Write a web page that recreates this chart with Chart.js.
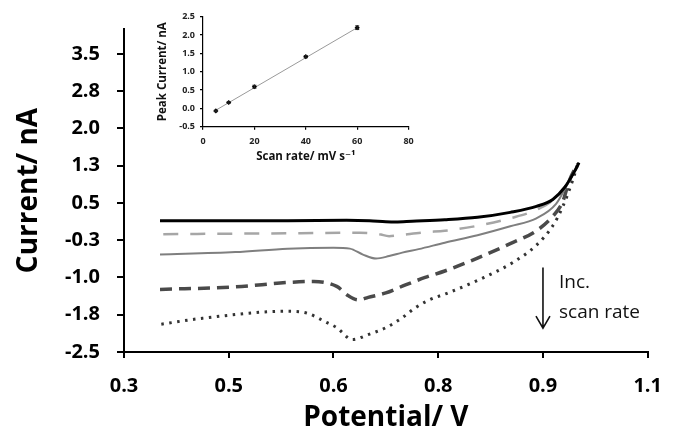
<!DOCTYPE html>
<html>
<head>
<meta charset="utf-8">
<script src="https://cdn.jsdelivr.net/npm/chart.js@4.4.1/dist/chart.umd.min.js"></script>
<style>
  html, body { margin: 0; padding: 0; background: #fff; }
  #wrap { position: relative; width: 678px; height: 433px; }
  #mainChart { position: absolute; left: 0; top: 0; }
  #insetChart { position: absolute; left: 145px; top: 4px; }
</style>
</head>
<body>
<div id="wrap">
  <canvas id="mainChart" width="678" height="433"></canvas>
  <canvas id="insetChart" width="275" height="166"></canvas>
</div>
<script>
// main CV curves, one pair of arrays per scan rate (mV/s)
const pot5  = [0.355, 0.45, 0.55, 0.64, 0.675, 0.70, 0.715, 0.74, 0.79, 0.84, 0.89, 0.93, 0.955, 0.973, 0.988, 0.995];
const cur5  = [0.14, 0.14, 0.14, 0.15, 0.14, 0.12, 0.115, 0.13, 0.16, 0.21, 0.31, 0.43, 0.57, 0.81, 1.13, 1.31];
const pot10 = [0.36, 0.45, 0.57, 0.66, 0.69, 0.705, 0.72, 0.76, 0.79, 0.84, 0.89, 0.93, 0.96, 0.98, 0.995];
const cur10 = [-0.13, -0.12, -0.11, -0.10, -0.13, -0.17, -0.15, -0.09, -0.06, 0.04, 0.19, 0.36, 0.61, 0.94, 1.30];
const pot20 = [0.355, 0.47, 0.55, 0.62, 0.645, 0.665, 0.685, 0.705, 0.725, 0.75, 0.79, 0.84, 0.89, 0.93, 0.96, 0.98, 0.995];
const cur20 = [-0.54, -0.49, -0.42, -0.40, -0.42, -0.54, -0.62, -0.57, -0.50, -0.43, -0.30, -0.15, 0.03, 0.19, 0.48, 0.94, 1.30];
const pot40 = [0.355, 0.47, 0.55, 0.59, 0.625, 0.643, 0.658, 0.673, 0.70, 0.73, 0.76, 0.79, 0.84, 0.89, 0.93, 0.955, 0.97, 0.98, 0.993];
const cur40 = [-1.24, -1.19, -1.10, -1.08, -1.18, -1.37, -1.45, -1.40, -1.31, -1.15, -1.00, -0.87, -0.61, -0.32, -0.06, 0.23, 0.52, 0.94, 1.29];
const pot60 = [0.357, 0.42, 0.55, 0.58, 0.61, 0.625, 0.649, 0.673, 0.70, 0.725, 0.745, 0.765, 0.795, 0.845, 0.895, 0.93, 0.955, 0.97, 0.985, 0.993];
const cur60 = [-1.94, -1.82, -1.68, -1.72, -1.91, -2.01, -2.25, -2.15, -2.01, -1.81, -1.61, -1.46, -1.31, -1.03, -0.69, -0.35, 0.04, 0.42, 0.94, 1.28];

const potentialTicks = [0.3, 0.46, 0.62, 0.78, 0.94, 1.1];
const potentialTickLabels = ['0.3', '0.5', '0.6', '0.8', '0.9', '1.1'];
const currentTicks = [-2.5, -1.75, -1.0, -0.25, 0.5, 1.25, 2.0, 2.75, 3.5];
const currentTickLabels = ['-2.5', '-1.8', '-1.0', '-0.3', '0.5', '1.3', '2.0', '2.8', '3.5'];

// arrow note
const arrowPotential = 0.94, arrowFrom = -0.8, arrowTo = -2.02;
const noteLines = ['Inc.', 'scan rate'];

// inset: peak current vs scan rate
const scanRates = [5, 10, 20, 40, 60];
const peakCurrents = [-0.07, 0.16, 0.59, 1.41, 2.20];
const peakErrors = [0.02, 0.02, 0.04, 0.03, 0.05];
const trendRates = [5, 60];
const trendCurrents = [-0.05, 2.2];
const rateTicks = [0, 20, 40, 60, 80];
const peakTicks = [-0.5, 0, 0.5, 1.0, 1.5, 2.0, 2.5];

const FONT = "'Open Sans', 'DejaVu Sans', sans-serif";
const pts = (xs, ys) => xs.map((x, i) => ({ x, y: ys[i] }));

function line(data, color, width, dash) {
    return { data, borderColor: color, borderWidth: width, borderDash: dash || [], pointRadius: 0,
             showLine: true, fill: false, cubicInterpolationMode: 'monotone', borderCapStyle: 'butt' };
}

const arrowPlugin = {
    id: 'arrowNote',
    afterDraw(chart) {
        const { ctx, scales: { x, y } } = chart;
        const px = x.getPixelForValue(arrowPotential);
        const y1 = y.getPixelForValue(arrowFrom), y2 = y.getPixelForValue(arrowTo);
        ctx.save();
        ctx.strokeStyle = '#111';
        ctx.lineWidth = 1.6;
        ctx.beginPath();
        ctx.moveTo(px, y1); ctx.lineTo(px, y2);
        ctx.moveTo(px - 7, y2 - 12); ctx.lineTo(px, y2); ctx.lineTo(px + 7, y2 - 12);
        ctx.stroke();
        ctx.fillStyle = '#111';
        ctx.font = "19px " + FONT;
        ctx.textBaseline = 'middle';
        ctx.fillText(noteLines[0], px + 16, y1 + 15);
        ctx.fillText(noteLines[1], px + 16, y1 + 45);
        ctx.restore();
    }
};

new Chart(document.getElementById('mainChart'), {
    type: 'scatter',
    data: { datasets: [
        line(pts(pot5, cur5), '#000000', 3),
        line(pts(pot10, cur10), '#a6a6a6', 2.5, [15, 12]),
        line(pts(pot20, cur20), '#7f7f7f', 2),
        line(pts(pot40, cur40), '#4a4a4a', 3.5, [12, 7]),
        line(pts(pot60, cur60), '#333333', 3, [2.5, 5.5]),
    ]},
    options: {
        responsive: false, animation: false,
        layout: { padding: { top: 14, right: 20, left: 0, bottom: 0 } },
        plugins: { legend: { display: false }, tooltip: { enabled: false } },
        scales: {
            x: {
                type: 'linear', min: 0.3, max: 1.1,
                afterBuildTicks: s => { s.ticks = potentialTicks.map(v => ({ value: v })); },
                afterFit: s => { s.height = 81; },
                ticks: { callback: (v, i) => potentialTickLabels[i], autoSkip: false, maxRotation: 0,
                         color: '#000', padding: 16, font: { family: FONT, size: 20, weight: 'bold' } },
                grid: { drawOnChartArea: false, drawTicks: true, tickLength: 6, color: '#000', lineWidth: 2 },
                border: { color: '#000', width: 2 },
                title: { display: true, text: 'Potential/ V', color: '#000', padding: { top: 0, bottom: -2 },
                         font: { family: FONT, size: 28, weight: 'bold' } }
            },
            y: {
                type: 'linear', min: -2.5, max: 4.0,
                afterBuildTicks: s => { s.ticks = currentTicks.map(v => ({ value: v })); },
                afterFit: s => { s.width = 124; },
                ticks: { callback: (v, i) => currentTickLabels[i], autoSkip: false,
                         color: '#000', padding: 17, font: { family: FONT, size: 20, weight: 'bold' } },
                grid: { drawOnChartArea: false, drawTicks: true, tickLength: 7, color: '#000', lineWidth: 2 },
                border: { color: '#000', width: 2 },
                title: { display: true, text: 'Current/ nA', color: '#000', padding: { top: 12, bottom: 0 },
                         font: { family: FONT, size: 28, weight: 'bold' } }
            }
        }
    },
    plugins: [arrowPlugin]
});

const errorBarPlugin = {
    id: 'errorBars',
    afterDatasetsDraw(chart) {
        const { ctx, scales: { x, y } } = chart;
        ctx.save();
        ctx.strokeStyle = '#222';
        ctx.lineWidth = 1;
        scanRates.forEach((r, i) => {
            const px = x.getPixelForValue(r);
            const top = y.getPixelForValue(peakCurrents[i] + peakErrors[i]);
            const bot = y.getPixelForValue(peakCurrents[i] - peakErrors[i]);
            ctx.beginPath();
            ctx.moveTo(px, top); ctx.lineTo(px, bot);
            ctx.moveTo(px - 2, top); ctx.lineTo(px + 2, top);
            ctx.moveTo(px - 2, bot); ctx.lineTo(px + 2, bot);
            ctx.stroke();
        });
        ctx.restore();
    }
};

new Chart(document.getElementById('insetChart'), {
    type: 'scatter',
    data: { datasets: [
        { data: pts(scanRates, peakCurrents), pointStyle: 'rectRot', pointRadius: 2.6,
          backgroundColor: '#000', borderColor: '#000', borderWidth: 0, showLine: false },
        { data: pts(trendRates, trendCurrents), showLine: true, pointRadius: 0,
          borderColor: '#9a9a9a', borderWidth: 1 }
    ]},
    options: {
        responsive: false, animation: false,
        layout: { padding: { top: 12.7, right: 11.4, left: 0, bottom: 0 } },
        plugins: { legend: { display: false }, tooltip: { enabled: false } },
        scales: {
            x: {
                type: 'linear', min: 0, max: 80,
                afterBuildTicks: s => { s.ticks = rateTicks.map(v => ({ value: v })); },
                afterFit: s => { s.height = 43.3; },
                ticks: { autoSkip: false, maxRotation: 0, color: '#222', padding: 6,
                         font: { family: FONT, size: 9, weight: 'bold' } },
                grid: { drawOnChartArea: false, drawTicks: true, tickLength: 3, color: '#000', lineWidth: 1.2 },
                border: { color: '#000', width: 1.2 },
                title: { display: true, text: 'Scan rate/ mV s⁻¹', color: '#111', padding: { top: 0, bottom: 6 },
                         font: { family: FONT, size: 11.5, weight: 'bold' } }
            },
            y: {
                type: 'linear', min: -0.5, max: 2.5,
                afterBuildTicks: s => { s.ticks = peakTicks.map(v => ({ value: v })); },
                afterFit: s => { s.width = 58; },
                ticks: { callback: v => v.toFixed(1), autoSkip: false, color: '#222', padding: 5,
                         font: { family: FONT, size: 9, weight: 'bold' } },
                grid: { drawOnChartArea: false, drawTicks: true, tickLength: 3, color: '#000', lineWidth: 1.2 },
                border: { color: '#000', width: 1.2 },
                title: { display: true, text: 'Peak Current/ nA', color: '#111', padding: { top: 11, bottom: 0 },
                         font: { family: FONT, size: 11.5, weight: 'bold' } }
            }
        }
    },
    plugins: [errorBarPlugin]
});
</script>
</body>
</html>
